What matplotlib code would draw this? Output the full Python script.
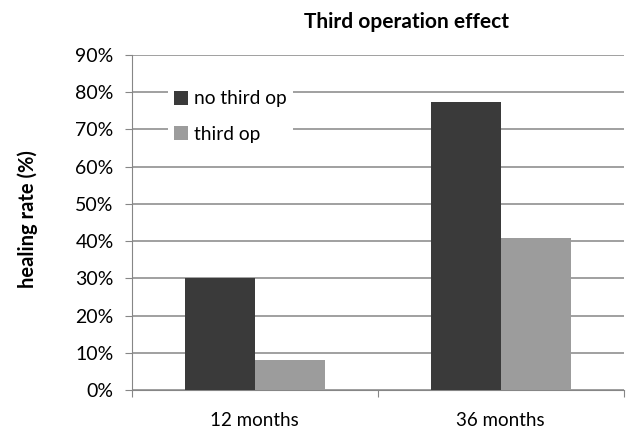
import numpy as np
import matplotlib.pyplot as plt
from matplotlib.ticker import PercentFormatter

# dados
categorias = ['12 months', '36 months']
sem_terceira = [30.2, 77.4]
com_terceira = [8.0, 40.9]
series = ['no third op', 'third op']

plt.rcParams['font.family'] = ['Lato', 'DejaVu Sans']

fig = plt.figure(figsize=(6.29, 4.28), dpi=100)
ax = fig.add_axes([0.2094, 0.0888, 0.7822, 0.7827])

x = np.arange(len(categorias))
w = 0.285
ax.bar(x - w / 2, np.array(sem_terceira) / 100, w, color='#3a3a3a', label=series[0], zorder=3)
ax.bar(x + w / 2, np.array(com_terceira) / 100, w, color='#9c9c9c', label=series[1], zorder=3)

ax.set_xlim(-0.5, 1.5)
ax.set_ylim(0, 0.9)
ax.set_yticks(np.arange(0, 0.91, 0.1))
ax.yaxis.set_major_formatter(PercentFormatter(1.0, decimals=0))
ax.set_xticks([-0.5, 0.5, 1.5])
ax.set_xticklabels([])
ax.set_xticks(x, minor=True)
ax.set_xticklabels(categorias, minor=True)
ax.tick_params(axis='x', which='minor', length=0, pad=16, labelsize=13.5)
ax.tick_params(axis='x', which='major', length=5, color='#868686', direction='out')
ax.tick_params(axis='y', length=5, color='#868686', labelsize=14, pad=8)

ax.grid(axis='y', color='#868686', linewidth=1.1, zorder=0)
for s in ['top', 'right']:
    ax.spines[s].set_visible(False)
ax.spines['left'].set_color('#868686')
ax.spines['bottom'].set_color('#868686')

ax.set_ylabel('healing rate (%)', fontweight='bold', fontsize=14.5)
ax.yaxis.set_label_coords(-0.19, 0.51)
fig.text(0.647, 0.948, 'Third operation effect', ha='center', va='center',
         fontweight='bold', fontsize=15)

leg = ax.legend(loc='upper left', bbox_to_anchor=(0.055, 0.94), frameon=True,
                facecolor='white', edgecolor='none', framealpha=1,
                fontsize=13.8, handlelength=0.75, handleheight=0.75,
                handletextpad=0.3, labelspacing=0.95, borderpad=0.3,
                fancybox=False)
leg.set_zorder(5)

plt.savefig('out.png', dpi=100)
